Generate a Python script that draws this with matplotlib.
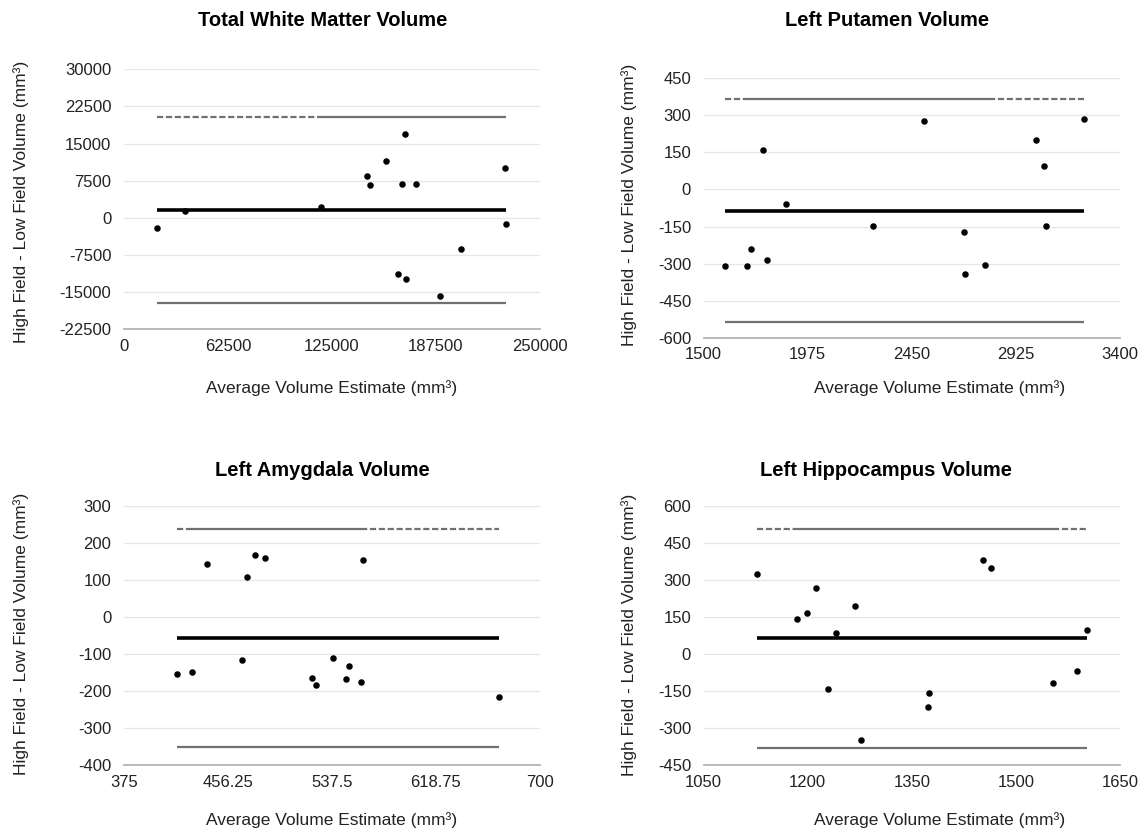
import matplotlib
matplotlib.use("Agg")
import matplotlib.pyplot as plt
import numpy as np

plt.rcParams['font.family'] = ['Liberation Sans', 'DejaVu Sans']

# ---------------- data ----------------
wm_x = [19737, 36623, 118421, 145833, 148026, 157237, 169079, 167325, 175658,
        229167, 229825, 202412, 164912, 169737, 189693]
wm_y = [-2106, 1394, 2202, 8462, 6644, 11490, 17010, 6913, 6913,
        10010, -1163, -6212, -11327, -12337, -15837]
wm_stats = [1529, 20308, -17250]          # mean, upper LoA, lower LoA
wm_solid = [118421, 229825]               # solid part of upper LoA line
wm_xticks = [0, 62500, 125000, 187500, 250000]
wm_yticks = [-22500, -15000, -7500, 0, 7500, 15000, 22500, 30000]

put_x = [1598, 1700, 1715, 1791, 1770, 1878, 2275, 2507, 2688, 2695, 2786,
         3017, 3051, 3062, 3234]
put_y = [-308, -311, -242, -286, 158, -60, -148, 279, -174, -341, -304,
         202, 94, -148, 285]
put_stats = [-86, 365, -537]
put_solid = [1690, 2800]
put_xticks = [1500, 1975, 2450, 2925, 3400]
put_yticks = [-600, -450, -300, -150, 0, 150, 300, 450]

amy_x = [416.1, 428.0, 440.0, 467.1, 471.1, 477.6, 485.3, 521.5, 524.7,
         538.4, 548.6, 550.9, 560.3, 561.7, 667.8]
amy_y = [-153.5, -148, 144.4, -115.7, 107.5, 166.8, 158.7, -163.3, -183.1,
         -109.4, -167, -132.8, -174.1, 153.3, -216.4]
amy_stats = [-55.4, 238.8, -349.6]
amy_solid = [428.0, 560.3]
amy_xticks = [375, 456.25, 537.5, 618.75, 700]
amy_xticklabels = ['375', '456.25', '537.5', '618.75', '700']
amy_yticks = [-400, -300, -200, -100, 0, 100, 200, 300]

hip_x = [1126.7, 1184.0, 1199.2, 1211.3, 1229.7, 1240.7, 1268.6, 1277.0,
         1373.1, 1374.2, 1452.5, 1463.5, 1553.3, 1587.5, 1602.7]
hip_y = [324.7, 143.8, 165.4, 268, -142.3, 85.8, 195.1, -346.1,
         -212.5, -158.5, 382.7, 349, -118, -69.4, 99.3]
hip_stats = [64.2, 506.9, -378.5]
hip_solid = [1180, 1553.3]
hip_xticks = [1050, 1200, 1350, 1500, 1650]
hip_yticks = [-450, -300, -150, 0, 150, 300, 450, 600]

titles = ['Total White Matter Volume', 'Left Putamen Volume',
          'Left Amygdala Volume', 'Left Hippocampus Volume']
xlabel = 'Average Volume Estimate (mm³)'
ylabel = 'High Field - Low Field Volume (mm³)'

# ---------------- layout ----------------
W, H = 1146, 831
fig = plt.figure(figsize=(W / 100, H / 100), dpi=100)


def box(l, r, t, b):
    return [l / W, 1 - b / H, (r - l) / W, (b - t) / H]


panels = [
    dict(x=wm_x, y=wm_y, stats=wm_stats, solid=wm_solid, xt=wm_xticks, xtl=None,
         yt=wm_yticks, box=box(124, 540, 69.3, 329.3),
         title=(323, 21), xl=(332, 388), yl=(21, 202)),
    dict(x=put_x, y=put_y, stats=put_stats, solid=put_solid, xt=put_xticks, xtl=None,
         yt=put_yticks, box=box(703.6, 1120, 78.3, 337.7),
         title=(887, 21), xl=(940, 388), yl=(629.5, 205)),
    dict(x=amy_x, y=amy_y, stats=amy_stats, solid=amy_solid, xt=amy_xticks,
         xtl=amy_xticklabels, yt=amy_yticks, box=box(124, 540, 506, 765.3),
         title=(322, 470), xl=(332, 820), yl=(21, 634)),
    dict(x=hip_x, y=hip_y, stats=hip_stats, solid=hip_solid, xt=hip_xticks, xtl=None,
         yt=hip_yticks, box=box(703.6, 1120, 506, 765.3),
         title=(886, 470), xl=(940, 820), yl=(629.5, 635)),
]

for p, title in zip(panels, titles):
    ax = fig.add_axes(p['box'])
    x = np.array(p['x'])
    y = np.array(p['y'])
    mean, upper, lower = p['stats']
    xmin, xmax = x.min(), x.max()
    s0, s1 = p['solid']

    ax.set_xlim(p['xt'][0], p['xt'][-1])
    ax.set_ylim(p['yt'][0], p['yt'][-1])
    ax.set_xticks(p['xt'])
    if p['xtl'] is not None:
        ax.set_xticklabels(p['xtl'])
    else:
        ax.set_xticklabels([str(v) for v in p['xt']])
    ax.set_yticks(p['yt'])
    ax.set_yticklabels([str(v) for v in p['yt']])

    ax.grid(axis='y', color='#e6e6e6', linewidth=0.9, zorder=0)
    ax.grid(axis='x', visible=False)
    for sp in ['top', 'right', 'left']:
        ax.spines[sp].set_visible(False)
    ax.spines['bottom'].set_color('#b3b3b3')
    ax.spines['bottom'].set_linewidth(1.3)
    ax.tick_params(length=0, labelsize=12, colors='#222222')
    ax.tick_params(axis='y', pad=9)
    ax.tick_params(axis='x', pad=7)

    # limit-of-agreement lines
    ax.plot([xmin, xmax], [lower, lower], color='#707070', lw=1.6, zorder=2,
            solid_capstyle='butt')
    ax.plot([s0, s1], [upper, upper], color='#707070', lw=1.6, zorder=2,
            solid_capstyle='butt')
    if s0 > xmin:
        ax.plot([xmin, s0], [upper, upper], color='#707070', lw=1.6, zorder=2,
                dashes=(2.8, 1.2), dash_capstyle='butt')
    if s1 < xmax:
        ax.plot([s1, xmax], [upper, upper], color='#707070', lw=1.6, zorder=2,
                dashes=(2.8, 1.2), dash_capstyle='butt')
    # mean line
    ax.plot([xmin, xmax], [mean, mean], color='black', lw=2.6, zorder=3,
            solid_capstyle='butt')
    # points
    ax.scatter(x, y, s=22, color='black', zorder=4, linewidths=0)

    tx, ty = p['title']
    fig.text(tx / W, 1 - ty / H, title, ha='center', va='center',
             fontsize=14.5, fontweight='bold', color='black')
    lx, ly = p['xl']
    fig.text(lx / W, 1 - ly / H, xlabel, ha='center', va='center',
             fontsize=12.5, color='#222222')
    yx, yy = p['yl']
    fig.text(yx / W, 1 - yy / H, ylabel, ha='center', va='center',
             rotation=90, fontsize=12.5, color='#222222')

fig.savefig('out.png', dpi=100, facecolor='white')
